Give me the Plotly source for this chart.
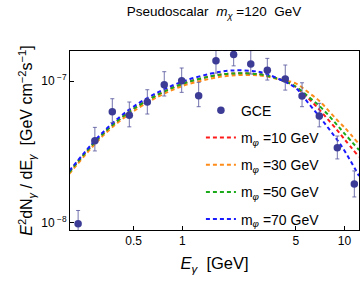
import plotly.graph_objects as go

# GCE data points
gce_E = [0.227, 0.288, 0.369, 0.470, 0.607, 0.772, 0.989, 1.259, 1.61, 2.07,
         2.64, 3.34, 4.31, 5.47, 6.99, 9.03, 11.5]
gce_F = [0.0984e-7, 0.379e-7, 0.607e-7, 0.573e-7, 0.711e-7, 0.941e-7, 1.005e-7,
         0.787e-7, 1.39e-7, 1.54e-7, 1.32e-7, 1.19e-7, 1.033e-7, 0.784e-7,
         0.566e-7, 0.338e-7, 0.1875e-7]
gce_up = [0.122e-7, 0.471e-7, 0.750e-7, 0.711e-7, 0.868e-7, 1.164e-7, 1.236e-7,
          0.979e-7, 1.66e-7, 1.82e-7, 1.64e-7, 1.445e-7, 1.297e-7, 0.972e-7,
          0.696e-7, 0.409e-7, 0.232e-7]
gce_lo = [0.0805e-7, 0.321e-7, 0.508e-7, 0.475e-7, 0.585e-7, 0.784e-7, 0.832e-7,
          0.659e-7, 1.137e-7, 1.28e-7, 1.12e-7, 1.016e-7, 0.863e-7, 0.659e-7,
          0.475e-7, 0.282e-7, 0.152e-7]

# model curves
curve_E = [0.2, 0.3, 0.4, 0.5, 0.7, 1.0, 1.5, 2, 3, 4, 5, 6, 7, 8, 9, 10, 12.3]
f_m10 = [0.2268, 0.390, 0.527, 0.637, 0.798, 0.955, 1.081, 1.129, 1.115, 1.025,
         0.907, 0.755, 0.628, 0.527, 0.451, 0.388, 0.291]
f_m30 = [0.2206, 0.377, 0.510, 0.614, 0.771, 0.922, 1.041, 1.094, 1.094, 1.025,
         0.962, 0.829, 0.723, 0.615, 0.531, 0.470, 0.359]
f_m50 = [0.2268, 0.390, 0.527, 0.637, 0.798, 0.955, 1.081, 1.129, 1.115, 1.025,
         0.915, 0.775, 0.666, 0.571, 0.489, 0.426, 0.326]
f_m70 = [0.2317, 0.399, 0.544, 0.661, 0.829, 0.992, 1.129, 1.186, 1.157, 1.025,
         0.893, 0.696, 0.561, 0.461, 0.385, 0.322, 0.2136]

curves = [("10", f_m10, "#ff1a1a"), ("30", f_m30, "#ff8c1a"),
          ("50", f_m50, "#1aaa1a"), ("70", f_m70, "#1a1aff")]

xticks = [0.5, 1, 5, 10]
xticklabels = ["0.5", "1", "5", "10"]
yticks = [1e-8, 1e-7]
yticklabels = ["10<sup> −8</sup>", "10<sup> −7</sup>"]

NB = "\u00a0"

fig = go.Figure()
for i, (m, f, c) in enumerate(curves):
    fig.add_trace(go.Scatter(
        x=curve_E, y=[v * 1e-7 for v in f], mode="lines",
        name="m<sub><i>φ</i></sub>" + NB + "=" + m + NB + "GeV",
        line=dict(color=c, width=2, dash="4px,3px", shape="spline"),
        legendgroup="g%d" % (i + 1), legendrank=i + 2))

fig.add_trace(go.Scatter(
    x=gce_E, y=gce_F, mode="markers", name="GCE",
    marker=dict(color="#3c3c96", size=7.5),
    error_y=dict(type="data", symmetric=False,
                 array=[u - f for u, f in zip(gce_up, gce_F)],
                 arrayminus=[f - l for f, l in zip(gce_F, gce_lo)],
                 color="rgba(90,90,160,0.85)", thickness=1, width=2),
    legendgroup="g0", legendrank=1))

font = "Liberation Sans, Arial, sans-serif"
fig.update_layout(
    width=360, height=284,
    margin=dict(l=70, r=1, t=51, b=54),
    paper_bgcolor="white", plot_bgcolor="white",
    font=dict(family=font, size=12, color="black"),
    title=dict(text="Pseudoscalar" + NB * 2 + "<i>m</i><sub><i>χ</i></sub>" + NB + "=120" + NB * 2 + "GeV",
               x=0.5945, xanchor="center", y=0.961, yanchor="middle",
               font=dict(size=13.5)),
    showlegend=True,
    legend=dict(x=0.453, y=0.756, xanchor="left", yanchor="top",
                bgcolor="rgba(0,0,0,0)", font=dict(size=14),
                tracegroupgap=6, traceorder="grouped"),
    xaxis=dict(type="log", range=[-0.694, 1.0895], showgrid=False,
               zeroline=False, showline=True, linecolor="black", linewidth=1,
               mirror=True, ticks="inside", ticklen=4, tickcolor="black",
               tickvals=xticks, ticktext=xticklabels, automargin=False,
               tickfont=dict(size=12),
               title=dict(text="<i>E</i><sub><i>γ</i></sub>" + NB * 2 + "[GeV]",
                          font=dict(size=16.5), standoff=10)),
    yaxis=dict(type="log", range=[-8.0515, -6.788], showgrid=False,
               zeroline=False, showline=True, linecolor="black", linewidth=1,
               mirror=True, ticks="inside", ticklen=4, tickcolor="black",
               tickvals=yticks, ticktext=yticklabels, automargin=False,
               tickfont=dict(size=12),
               title=dict(text="<i>E</i><sup>2</sup>dN<sub><i>γ</i></sub>" + NB + "/" + NB + "dE<sub><i>γ</i></sub>" + NB * 2 + "[GeV" + NB + "cm<sup>−2</sup>s<sup>−1</sup>]",
                          font=dict(size=16), standoff=4)),
)

fig.write_html("out.html", config={"displayModeBar": False},
               post_script="document.body.style.margin='0';")
